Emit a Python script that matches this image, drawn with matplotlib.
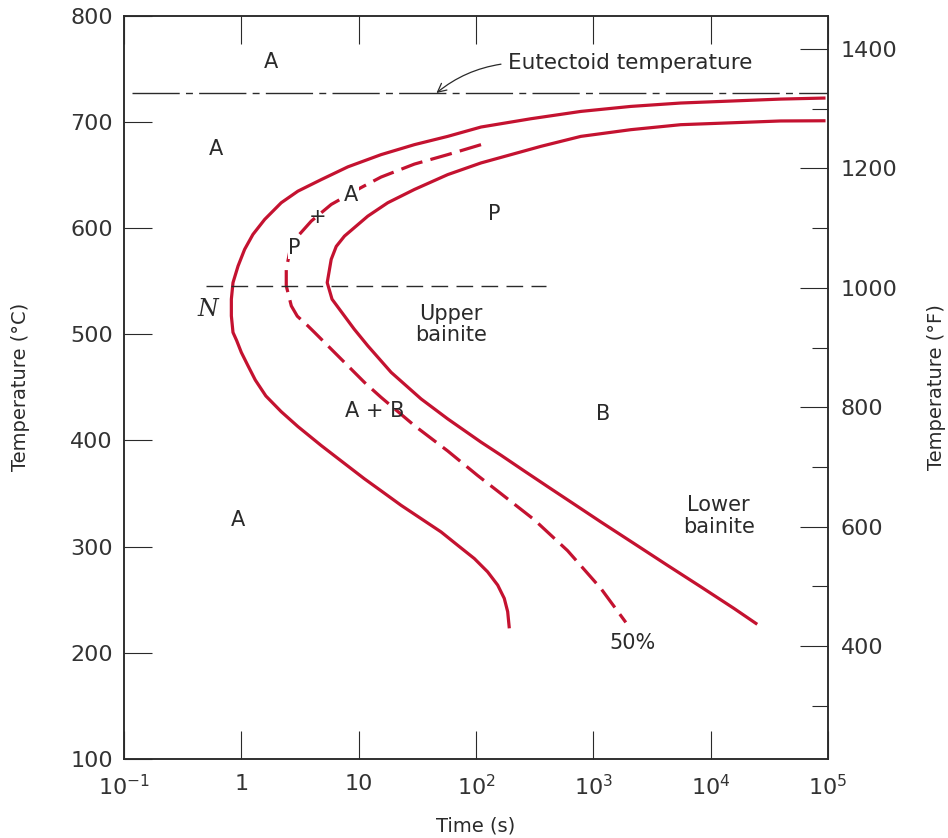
import math
import matplotlib
matplotlib.use("Agg")
import matplotlib.pyplot as plt
import numpy as np
from matplotlib.ticker import FixedLocator, NullLocator, FuncFormatter

plt.rcParams['font.family'] = ['DejaVu Sans']
plt.rcParams['mathtext.default'] = 'regular'
plt.rcParams['lines.scale_dashes'] = False

# values: log10 of time (s) and temperature (degC)
start_logt = [4.979, 4.596, 3.745, 3.319, 2.894, 2.468, 2.043, 1.759, 1.475, 1.191,
              0.908, 0.681, 0.482, 0.340, 0.199, 0.099, 0.028, -0.028, -0.071,
              -0.085, -0.085, -0.071, -0.040, 0.0, 0.057, 0.119, 0.209, 0.340,
              0.482, 0.681, 0.823, 1.049, 1.191, 1.362, 1.532, 1.702, 1.844,
              1.986, 2.099, 2.185, 2.241, 2.270, 2.284]
start_T = [722.3, 721.3, 717.6, 714.4, 709.7, 702.8, 695.0, 686.2, 678.4, 669.0,
           657.5, 645.5, 634.6, 623.7, 608.0, 593.9, 579.8, 564.1, 548.5,
           532.9, 517.2, 501.6, 494.0, 482.8, 470.2, 456.8, 441.8, 427.0,
           413.0, 395.1, 383.0, 363.8, 352.5, 338.8, 326.3, 313.8, 301.2,
           288.7, 276.2, 263.7, 251.2, 238.7, 223.0]

finish_logt = [4.979, 4.596, 3.745, 3.319, 2.894, 2.553, 2.043, 1.759, 1.475, 1.248,
               1.078, 0.879, 0.809, 0.766, 0.732, 0.773, 0.962, 1.078, 1.277,
               1.532, 1.759, 2.043, 2.213, 2.411, 2.610, 2.894, 3.064, 3.348,
               3.631, 3.915, 4.198, 4.397]
finish_T = [700.9, 700.7, 697.2, 692.5, 686.2, 676.8, 661.2, 650.2, 636.2, 623.7,
            611.1, 592.3, 582.6, 570.4, 548.5, 532.9, 504.7, 489.0, 464.0,
            439.0, 420.2, 398.3, 386.0, 371.2, 356.5, 335.7, 323.2, 302.8,
            282.4, 262.2, 241.8, 226.8]

half_logt = [2.043, 1.759, 1.475, 1.191, 1.021, 0.766, 0.596, 0.482, 0.411, 0.383,
             0.383, 0.426, 0.477, 0.567, 0.624, 0.823, 1.049, 1.191, 1.475,
             1.759, 2.014, 2.213, 2.496, 2.780, 3.064, 3.277]
half_T = [678.4, 669.0, 660.1, 647.9, 638.0, 622.1, 606.4, 592.3, 576.7, 561.0,
          545.4, 526.6, 516.9, 507.8, 501.6, 479.6, 454.6, 440.5, 413.9,
          390.0, 366.9, 349.8, 325.3, 296.2, 260.6, 228.6]

eutectoid_T = 727
eutectoid_t = [0.116, 1e5]
nose_T = 545
nose_t = [0.50, 394]

x_ticks = [0.1, 1, 10, 100, 1000, 1e4, 1e5]
c_ticks = [100, 200, 300, 400, 500, 600, 700, 800]
f_major = [400, 600, 800, 1000, 1200, 1400]
f_minor = [300, 500, 700, 900, 1100, 1300]

# (text, time, temperature, masks the curve beneath)
labels = [
    ('A', 1.8, 756, False), ('A', 0.61, 674, False), ('A', 8.6, 631, True),
    ('+', 4.5, 610, False), ('P', 2.84, 581, True), ('P', 143, 613, False),
    ('Upper\nbainite', 61, 509, False), ('A + B', 13.6, 428, False),
    ('B', 1205, 425, False), ('A', 0.94, 325, False), ('50%', 2170, 209, False),
    ('Lower\nbainite', 11700, 329, False),
]

red = '#c41230'
ink = '#2a2a2a'

fig = plt.figure(figsize=(9.48, 8.38), dpi=100)
ax = fig.add_axes([0.1308, 0.0943, 0.8734 - 0.1308, 0.9815 - 0.0943])

ax.plot(10 ** np.array(start_logt), start_T, color=red, lw=2.3,
        solid_joinstyle='round', solid_capstyle='butt')
ax.plot(10 ** np.array(finish_logt), finish_T, color=red, lw=2.3,
        solid_joinstyle='round', solid_capstyle='butt')
ax.plot(10 ** np.array(half_logt), half_T, color=red, lw=2.3, dashes=(16, 6))
ax.plot(eutectoid_t, [eutectoid_T] * 2, color=ink, lw=1.0,
        dashes=(34, 4.5, 5, 4.5))
ax.plot(nose_t, [nose_T] * 2, color=ink, lw=1.0, dashes=(12, 6))

for txt, t, T, mask in labels:
    bb = dict(facecolor='white', edgecolor='none', pad=0.5) if mask else None
    ax.text(t, T, txt, ha='center', va='center', fontsize=15, color=ink,
            linespacing=1.1, bbox=bb, zorder=5)
ax.text(0.52, 523, 'N', ha='center', va='center', fontsize=17,
        family='DejaVu Serif', style='italic', color=ink)

ax.annotate('Eutectoid temperature', xy=(46, eutectoid_T), xytext=(187, 755),
            ha='left', va='center', fontsize=15.5, color=ink,
            arrowprops=dict(arrowstyle='->', color=ink, lw=0.9,
                            connectionstyle='arc3,rad=0.15', relpos=(0, 0.5),
                            shrinkA=3, shrinkB=0))

ax.set_xscale('log')
ax.set_xlim(0.1, 1e5)
ax.set_ylim(100, 800)
ax.xaxis.set_major_locator(FixedLocator(x_ticks))
ax.xaxis.set_minor_locator(NullLocator())


def time_label(v, pos):
    if v in (1, 10):
        return '%d' % v
    return '$10^{%d}$' % int(round(math.log10(v)))


ax.xaxis.set_major_formatter(FuncFormatter(time_label))
ax.yaxis.set_major_locator(FixedLocator(c_ticks))
ax.tick_params(axis='both', which='major', direction='in', length=20, width=0.8,
               labelsize=16, color=ink, labelcolor='#333333')
ax.tick_params(axis='x', top=True, pad=11)
ax.tick_params(axis='y', pad=8)
ax.set_xlabel('Time (s)', fontsize=14, color=ink, labelpad=12)
ax.set_ylabel('Temperature (°C)', fontsize=14, color=ink, labelpad=29)
for s in ax.spines.values():
    s.set_linewidth(1.1)
    s.set_color(ink)

ax2 = ax.twinx()
ax2.set_ylim(211, 1456)
ax2.yaxis.set_major_locator(FixedLocator(f_major))
ax2.yaxis.set_minor_locator(FixedLocator(f_minor))
ax2.tick_params(axis='y', which='major', direction='in', length=20, width=0.8,
                labelsize=16, labelcolor='#333333', color=ink, pad=9)
ax2.tick_params(axis='y', which='minor', direction='in', length=11.5, width=0.8,
                color=ink)
ax2.set_ylabel('Temperature (°F)', fontsize=14, color=ink, labelpad=21)
for s in ax2.spines.values():
    s.set_linewidth(1.1)
    s.set_color(ink)

fig.savefig('out.png', dpi=100)
